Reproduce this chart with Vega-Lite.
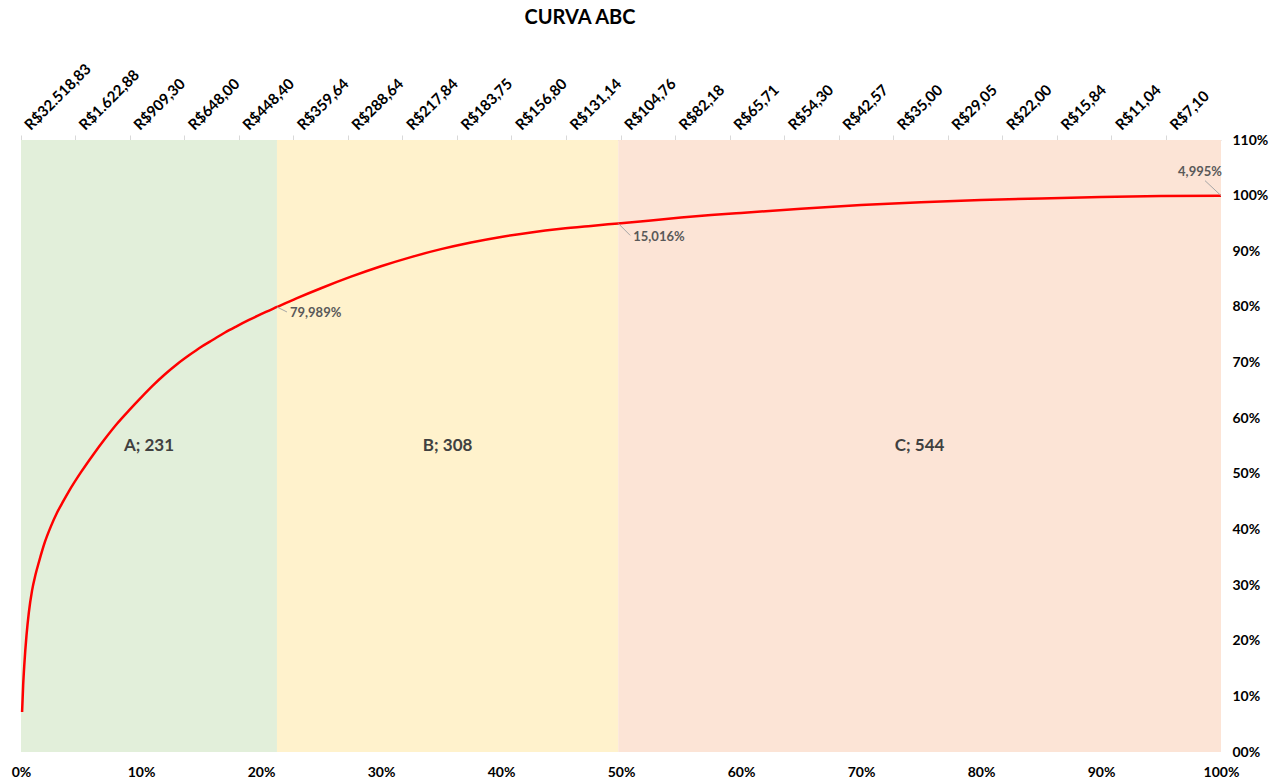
{
  "$schema": "https://vega.github.io/schema/vega-lite/v6.json",
  "width": 1200,
  "height": 612,
  "autosize": {"type": "none"},
  "padding": {"left": 21, "top": 140, "right": 51, "bottom": 28},
  "background": "white",
  "config": {"view": {"stroke": null}, "font": "Lato"},
  "title": {"text": "CURVA ABC", "fontSize": 20, "fontWeight": "bold", "font": "Lato", "color": "#000000", "anchor": "middle", "dx": -41, "offset": 33},
  "datasets": {
    "curve": [
      {"p": 0.0009, "c": 0.072}, {"p": 0.0018, "c": 0.12}, {"p": 0.0028, "c": 0.158}, {"p": 0.0046, "c": 0.21},
      {"p": 0.0065, "c": 0.25}, {"p": 0.0092, "c": 0.29}, {"p": 0.012, "c": 0.318}, {"p": 0.015, "c": 0.342},
      {"p": 0.02, "c": 0.378}, {"p": 0.025, "c": 0.406}, {"p": 0.03, "c": 0.43}, {"p": 0.035, "c": 0.45},
      {"p": 0.04, "c": 0.469}, {"p": 0.05, "c": 0.503}, {"p": 0.06, "c": 0.534}, {"p": 0.07, "c": 0.563},
      {"p": 0.08, "c": 0.59}, {"p": 0.09, "c": 0.614}, {"p": 0.10, "c": 0.637}, {"p": 0.11, "c": 0.659},
      {"p": 0.12, "c": 0.679}, {"p": 0.13, "c": 0.697}, {"p": 0.14, "c": 0.713}, {"p": 0.15, "c": 0.728},
      {"p": 0.16, "c": 0.741}, {"p": 0.17, "c": 0.754}, {"p": 0.18, "c": 0.7655}, {"p": 0.19, "c": 0.7765},
      {"p": 0.20, "c": 0.787}, {"p": 0.2133, "c": 0.79989}, {"p": 0.23, "c": 0.81576}, {"p": 0.25, "c": 0.83356},
      {"p": 0.275, "c": 0.85431}, {"p": 0.30, "c": 0.87306}, {"p": 0.325, "c": 0.88956}, {"p": 0.35, "c": 0.90381},
      {"p": 0.375, "c": 0.91581}, {"p": 0.40, "c": 0.92581}, {"p": 0.425, "c": 0.93381}, {"p": 0.45, "c": 0.94031},
      {"p": 0.475, "c": 0.94556}, {"p": 0.4977, "c": 0.95005}, {"p": 0.525, "c": 0.9555}, {"p": 0.55, "c": 0.9605},
      {"p": 0.575, "c": 0.965}, {"p": 0.60, "c": 0.969}, {"p": 0.65, "c": 0.9765}, {"p": 0.70, "c": 0.983},
      {"p": 0.75, "c": 0.988}, {"p": 0.80, "c": 0.992}, {"p": 0.85, "c": 0.995}, {"p": 0.90, "c": 0.9975},
      {"p": 0.95, "c": 0.9992}, {"p": 1.0, "c": 1.0}
    ],
    "classes": [
      {"cls": "A", "label": "A; 231", "s": 0, "e": 0.2133},
      {"cls": "B", "label": "B; 308", "s": 0.2133, "e": 0.4977},
      {"cls": "C", "label": "C; 544", "s": 0.4977, "e": 1.0}
    ],
    "notes": [
      {"cls": "A", "p": 0.2133, "c": 0.79989, "lab": "79,989%"},
      {"cls": "B", "p": 0.4977, "c": 0.95005, "lab": "15,016%"},
      {"cls": "C", "p": 1.0, "c": 1.0, "lab": "4,995%"}
    ],
    "prices": [
      {"price": "R$32.518,83"}, {"price": "R$1.622,88"}, {"price": "R$909,30"}, {"price": "R$648,00"},
      {"price": "R$448,40"}, {"price": "R$359,64"}, {"price": "R$288,64"}, {"price": "R$217,84"},
      {"price": "R$183,75"}, {"price": "R$156,80"}, {"price": "R$131,14"}, {"price": "R$104,76"},
      {"price": "R$82,18"}, {"price": "R$65,71"}, {"price": "R$54,30"}, {"price": "R$42,57"},
      {"price": "R$35,00"}, {"price": "R$29,05"}, {"price": "R$22,00"}, {"price": "R$15,84"},
      {"price": "R$11,04"}, {"price": "R$7,10"}
    ]
  },
  "layer": [
    {
      "encoding": {
        "x": {
          "type": "quantitative",
          "scale": {"domain": [0, 1], "nice": false, "zero": false},
          "axis": {
            "orient": "bottom", "values": [0, 0.1, 0.2, 0.3, 0.4, 0.5, 0.6, 0.7, 0.8, 0.9, 1.0],
            "format": ".0%", "domain": false, "ticks": false, "grid": false, "title": null,
            "labelPadding": 13, "labelFontSize": 14, "labelFontWeight": "bold", "labelColor": "#000000",
            "labelFont": "Lato", "labelFlush": false, "labelOverlap": false, "labelBound": false
          }
        }
      },
      "layer": [
        {
          "data": {"name": "classes"},
          "mark": {"type": "rect"},
          "encoding": {
            "x": {"field": "s", "type": "quantitative"},
            "x2": {"field": "e"},
            "color": {
              "field": "cls", "type": "nominal", "legend": null,
              "scale": {"domain": ["A", "B", "C"], "range": ["#E2EFDA", "#FFF2CC", "#FCE4D6"]}
            }
          }
        },
        {
          "data": {"name": "classes"},
          "transform": [{"calculate": "(datum.s + datum.e) / 2", "as": "mid"}],
          "mark": {"type": "text", "fontSize": 17, "fontWeight": "bold", "font": "Lato", "color": "#404040", "align": "center", "baseline": "middle"},
          "encoding": {
            "x": {"field": "mid", "type": "quantitative"},
            "y": {"datum": 0.55, "type": "quantitative", "scale": {"domain": [0, 1.1], "nice": false, "zero": true}},
            "text": {"field": "label"}
          }
        },
        {
          "data": {"name": "curve"},
          "mark": {"type": "line", "color": "#FF0000", "strokeWidth": 2.5, "interpolate": "monotone"},
          "encoding": {
            "x": {"field": "p", "type": "quantitative"},
            "y": {
              "field": "c", "type": "quantitative",
              "scale": {"domain": [0, 1.1], "nice": false, "zero": true},
              "axis": {
                "orient": "right", "values": [0, 0.1, 0.2, 0.3, 0.4, 0.5, 0.6, 0.7, 0.8, 0.9, 1.0, 1.1],
                "labelExpr": "datum.value == 0 ? '00%' : format(datum.value, '.0%')",
                "domain": false, "ticks": false, "grid": false, "title": null,
                "labelPadding": 11, "labelFontSize": 14, "labelFontWeight": "bold", "labelColor": "#000000",
                "labelFont": "Lato", "labelAlign": "left", "labelFlush": false, "labelOverlap": false, "labelBound": false
              }
            }
          }
        },
        {
          "data": {"name": "notes"},
          "transform": [{"filter": "datum.cls == 'A'"}],
          "mark": {"type": "rule", "color": "#a6a6a6", "strokeWidth": 1, "x2Offset": 10, "y2Offset": 5},
          "encoding": {"x": {"field": "p", "type": "quantitative"}, "x2": {"field": "p"}, "y": {"field": "c", "type": "quantitative"}, "y2": {"field": "c"}}
        },
        {
          "data": {"name": "notes"},
          "transform": [{"filter": "datum.cls == 'B'"}],
          "mark": {"type": "rule", "color": "#a6a6a6", "strokeWidth": 1, "x2Offset": 12, "y2Offset": 12},
          "encoding": {"x": {"field": "p", "type": "quantitative"}, "x2": {"field": "p"}, "y": {"field": "c", "type": "quantitative"}, "y2": {"field": "c"}}
        },
        {
          "data": {"name": "notes"},
          "transform": [{"filter": "datum.cls == 'C'"}],
          "mark": {"type": "rule", "color": "#a6a6a6", "strokeWidth": 1, "x2Offset": -16, "y2Offset": -15},
          "encoding": {"x": {"field": "p", "type": "quantitative"}, "x2": {"field": "p"}, "y": {"field": "c", "type": "quantitative"}, "y2": {"field": "c"}}
        },
        {
          "data": {"name": "notes"},
          "transform": [{"filter": "datum.cls == 'A'"}],
          "mark": {"type": "text", "fontSize": 13, "fontWeight": "bold", "font": "Lato", "color": "#595959", "align": "left", "baseline": "middle", "dx": 13, "dy": 6},
          "encoding": {"x": {"field": "p", "type": "quantitative"}, "y": {"field": "c", "type": "quantitative"}, "text": {"field": "lab"}}
        },
        {
          "data": {"name": "notes"},
          "transform": [{"filter": "datum.cls == 'B'"}],
          "mark": {"type": "text", "fontSize": 13, "fontWeight": "bold", "font": "Lato", "color": "#595959", "align": "left", "baseline": "middle", "dx": 15, "dy": 14},
          "encoding": {"x": {"field": "p", "type": "quantitative"}, "y": {"field": "c", "type": "quantitative"}, "text": {"field": "lab"}}
        },
        {
          "data": {"name": "notes"},
          "transform": [{"filter": "datum.cls == 'C'"}],
          "mark": {"type": "text", "fontSize": 13, "fontWeight": "bold", "font": "Lato", "color": "#595959", "align": "center", "baseline": "middle", "dx": -21, "dy": -24},
          "encoding": {"x": {"field": "p", "type": "quantitative"}, "y": {"field": "c", "type": "quantitative"}, "text": {"field": "lab"}}
        }
      ]
    },
    {
      "data": {"name": "prices"},
      "mark": {"type": "rule", "opacity": 0},
      "encoding": {
        "x": {
          "field": "price", "type": "ordinal", "sort": null,
          "scale": {"type": "band", "paddingInner": 0, "paddingOuter": 0},
          "axis": {
            "orient": "top", "title": null, "labelAngle": -45, "labelAlign": "left", "labelBaseline": "middle",
            "bandPosition": 0, "labelOffset": -21, "tickSize": 5, "labelPadding": 8,
            "domainColor": "#d9d9d9", "tickColor": "#d9d9d9", "labelFontSize": 15, "labelFontWeight": "bold",
            "labelColor": "#000000", "labelFont": "Lato", "labelBound": false, "labelOverlap": false, "grid": false
          }
        }
      }
    }
  ],
  "resolve": {"scale": {"x": "independent"}, "axis": {"x": "independent"}}
}
